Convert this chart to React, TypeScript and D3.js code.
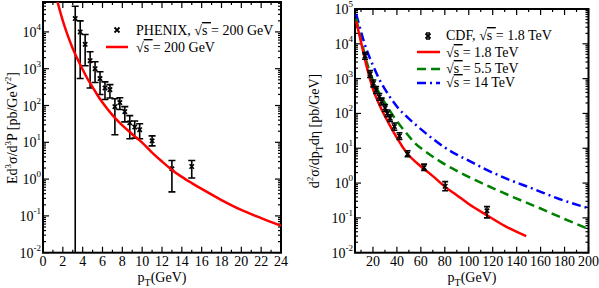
import { useEffect, useRef } from "react";
import * as d3 from "d3";

// PHENIX data, sqrt(s) = 200 GeV
const phenixPt = [3.25, 3.75, 4.25, 4.75, 5.25, 5.75, 6.25, 6.75, 7.25, 7.75, 8.25, 8.75, 9.25, 9.75, 11, 13, 15];
const phenixVal = [2.3e4, 1.0e4, 4.6e3, 1.65e3, 1.0e3, 540, 300, 270, 93, 120, 68, 34, 26, 22, 11, 1.9, 2.2];
const phenixLo = [1e-3, 540, 1.2e3, 300, 420, 200, 145, 160, 16, 78, 36, 12.5, 13, 12.5, 8, 0.45, 1.07];
const phenixHi = [5.0e4, 2.0e4, 8.5e3, 2.9e3, 1.55e3, 830, 440, 370, 152, 163, 93, 53, 38, 32, 15, 3.2, 3.2];

// theory curve, 200 GeV
const rhicCurvePt = [1.45, 2, 2.5, 3, 3.5, 4, 4.5, 5, 5.5, 6, 7, 8, 9, 10, 11, 12, 13, 14, 15, 16, 18, 20, 22, 24];
const rhicCurveVal = [67600, 20000, 7940, 3550, 1780, 955, 525, 316, 190, 120, 55, 28.8, 16.6, 9.8, 5.25, 3.0, 1.78, 1.15, 0.78, 0.54, 0.27, 0.145, 0.087, 0.054];

// CDF data, sqrt(s) = 1.8 TeV
const cdfPt = [13.4, 17.6, 20.3, 22.6, 25.3, 27.3, 30.1, 32.0, 34.3, 37.9, 42.1, 48.9, 62.7, 80.3, 115.2];
const cdfVal = [4500, 1350, 730, 470, 300, 220, 143, 100, 74, 42, 22.5, 6.8, 2.8, 0.81, 0.16];
const cdfLo = [3600, 1080, 580, 375, 240, 175, 114, 80, 59, 33, 18, 5.7, 2.3, 0.6, 0.1];
const cdfHi = [5600, 1700, 910, 590, 375, 275, 180, 125, 92, 53, 28, 8.5, 3.5, 1.1, 0.21];

// theory curves for LHC / Tevatron energies
const tev18Pt = [6, 8, 10, 12, 14, 17, 20, 25, 30, 35, 40, 45, 50, 60, 70, 80, 90, 100, 115, 130, 148];
const tev18Val = [44700, 22400, 11200, 5620, 2820, 1120, 500, 190, 83, 40, 20, 10.5, 6.3, 3.0, 1.58, 0.79, 0.45, 0.25, 0.12, 0.059, 0.03];
const lhc55Pt = [6, 8, 10, 12, 15, 20, 25, 30, 35, 40, 48, 55, 65, 76, 90, 107, 120, 137.5, 160, 180, 200];
const lhc55Val = [52500, 26300, 13200, 7080, 2820, 890, 400, 200, 107, 60, 27, 14.1, 7.6, 4.2, 2.24, 1.15, 0.72, 0.39, 0.186, 0.093, 0.048];
const lhc14Pt = [6, 8, 10, 15, 20, 25, 30, 40, 50, 60, 70, 80, 90, 100, 115, 130, 154, 175, 200];
const lhc14Val = [70800, 39800, 22400, 6310, 2400, 1000, 500, 158, 71, 35.5, 18.6, 10.5, 6.6, 4.4, 2.4, 1.41, 0.68, 0.355, 0.19];

const leftXTicks = [0, 2, 4, 6, 8, 10, 12, 14, 16, 18, 20, 22, 24];
const rightXTicks = [20, 40, 60, 80, 100, 120, 140, 160, 180, 200];
const leftYExp = [-2, -1, 0, 1, 2, 3, 4];
const rightYExp = [-2, -1, 0, 1, 2, 3, 4, 5];

const FONT = "'Liberation Serif', 'Times New Roman', serif";

type Panel = {
  id: string;
  x0: number; x1: number; y0: number; y1: number;
  xDomain: [number, number];
  yDomain: [number, number];
  xMajor: number[];
  xMinorStep: number;
  yExp: number[];
};

const App = () => {
  const svgRef = useRef<SVGSVGElement | null>(null);

  useEffect(() => {
    const svg = d3.select(svgRef.current);
    svg.selectAll("*").remove();

    const drawFrame = (p: Panel) => {
      const x = d3.scaleLinear().domain(p.xDomain).range([p.x0, p.x1]);
      const y = d3.scaleLog().domain(p.yDomain).range([p.y1, p.y0]);
      const g = svg.append("g");

      svg
        .append("clipPath")
        .attr("id", `clip-${p.id}`)
        .append("rect")
        .attr("x", p.x0)
        .attr("y", p.y0)
        .attr("width", p.x1 - p.x0)
        .attr("height", p.y1 - p.y0);

      // x ticks (bottom + top, inward)
      const minor = d3.range(Math.ceil(p.xDomain[0] / p.xMinorStep) * p.xMinorStep, p.xDomain[1] + 0.001, p.xMinorStep);
      minor.forEach((v) => {
        const major = p.xMajor.some((m) => Math.abs(m - v) < 1e-6);
        const len = major ? 6 : 3;
        g.append("line").attr("x1", x(v)).attr("x2", x(v)).attr("y1", p.y1).attr("y2", p.y1 - len)
          .attr("stroke", "#000").attr("stroke-width", 1.2);
        g.append("line").attr("x1", x(v)).attr("x2", x(v)).attr("y1", p.y0).attr("y2", p.y0 + len)
          .attr("stroke", "#000").attr("stroke-width", 1.2);
      });
      p.xMajor.forEach((v) => {
        g.append("text").attr("x", x(v)).attr("y", 266).attr("text-anchor", "middle")
          .attr("font-family", FONT).attr("font-size", 14).text(v);
      });

      // y ticks (log)
      const yTop = p.yDomain[1];
      p.yExp.forEach((e) => {
        const base = Math.pow(10, e);
        for (let k = 1; k <= 9; k++) {
          const v = base * k;
          if (v > yTop * 1.0001) break;
          const len = k === 1 ? 6 : 3;
          g.append("line").attr("x1", p.x0).attr("x2", p.x0 + len).attr("y1", y(v)).attr("y2", y(v))
            .attr("stroke", "#000").attr("stroke-width", 1.2);
          g.append("line").attr("x1", p.x1).attr("x2", p.x1 - len).attr("y1", y(v)).attr("y2", y(v))
            .attr("stroke", "#000").attr("stroke-width", 1.2);
        }
        const t = g.append("text").attr("x", p.x0 - 2).attr("y", y(base) + 5).attr("text-anchor", "end")
          .attr("font-family", FONT).attr("font-size", 14);
        t.append("tspan").text("10");
        t.append("tspan").attr("dy", -7).attr("font-size", 9).text(e);
      });

      g.append("rect").attr("x", p.x0).attr("y", p.y0).attr("width", p.x1 - p.x0).attr("height", p.y1 - p.y0)
        .attr("fill", "none").attr("stroke", "#000").attr("stroke-width", 2);

      return { x, y };
    };

    const drawCurve = (p: Panel, x: any, y: any, pts: number[], vals: number[], color: string, dash: string | null) => {
      const line = d3
        .line<number>()
        .x((_, i) => x(pts[i]))
        .y((v) => y(v))
        .curve(d3.curveMonotoneX);
      const path = svg.append("path").attr("clip-path", `url(#clip-${p.id})`).attr("d", line(vals) as string)
        .attr("fill", "none").attr("stroke", color).attr("stroke-width", 2.5);
      if (dash) path.attr("stroke-dasharray", dash);
    };

    const drawErrors = (p: Panel, x: any, y: any, pts: number[], vals: number[], lo: number[], hi: number[], cap: number) => {
      const g = svg.append("g").attr("clip-path", `url(#clip-${p.id})`);
      pts.forEach((pt, i) => {
        const cx = x(pt);
        g.append("line").attr("x1", cx).attr("x2", cx).attr("y1", y(Math.max(lo[i], 1e-4))).attr("y2", y(hi[i]))
          .attr("stroke", "#000").attr("stroke-width", 1.6);
        [lo[i], hi[i]].forEach((v) => {
          g.append("line").attr("x1", cx - cap).attr("x2", cx + cap).attr("y1", y(v)).attr("y2", y(v))
            .attr("stroke", "#000").attr("stroke-width", 1.6);
        });
        const cy = y(vals[i]);
        g.append("path").attr("d", `M${cx - 2.2},${cy - 2.2}L${cx + 2.2},${cy + 2.2}M${cx - 2.2},${cy + 2.2}L${cx + 2.2},${cy - 2.2}`)
          .attr("stroke", "#000").attr("stroke-width", 1.6);
      });
    };

    const sqrtS = (t: any, rest: string) => {
      t.append("tspan").text("\u221A");
      t.append("tspan").style("text-decoration", "overline").text("s ");
      t.append("tspan").text(rest);
    };

    // ---- left panel ----
    const left: Panel = {
      id: "l", x0: 43, x1: 281, y0: 2, y1: 252.7,
      xDomain: [0, 24], yDomain: [0.01, 6.5e4],
      xMajor: leftXTicks, xMinorStep: 1, yExp: leftYExp,
    };
    const L = drawFrame(left);
    drawErrors(left, L.x, L.y, phenixPt, phenixVal, phenixLo, phenixHi, 3.5);
    drawCurve(left, L.x, L.y, rhicCurvePt, rhicCurveVal, "#ff0000", null);

    // ---- right panel ----
    const right: Panel = {
      id: "r", x0: 355, x1: 588.5, y0: 9, y1: 252.7,
      xDomain: [5, 200], yDomain: [0.01, 1e5],
      xMajor: rightXTicks, xMinorStep: 10, yExp: rightYExp,
    };
    const R = drawFrame(right);
    drawCurve(right, R.x, R.y, lhc14Pt, lhc14Val, "#0000ff", "9,4,2,4");
    drawCurve(right, R.x, R.y, lhc55Pt, lhc55Val, "#008000", "9,5");
    drawCurve(right, R.x, R.y, tev18Pt, tev18Val, "#ff0000", null);
    drawErrors(right, R.x, R.y, cdfPt, cdfVal, cdfLo, cdfHi, 3);

    // axis titles
    [162, 472].forEach((cx) => {
      const t = svg.append("text").attr("x", cx).attr("y", 282).attr("text-anchor", "middle")
        .attr("font-family", FONT).attr("font-size", 14);
      t.append("tspan").text("p");
      t.append("tspan").attr("dy", 4).attr("font-size", 10).text("T");
      t.append("tspan").attr("dy", -4).text("(GeV)");
    });

    const yl = svg.append("text").attr("transform", "translate(17,128) rotate(-90)").attr("text-anchor", "middle")
      .attr("font-family", FONT).attr("font-size", 14);
    yl.append("tspan").text("Ed");
    yl.append("tspan").attr("dy", -6).attr("font-size", 9).text("3");
    yl.append("tspan").attr("dy", 6).text("\u03C3/d");
    yl.append("tspan").attr("dy", -6).attr("font-size", 9).text("3");
    yl.append("tspan").attr("dy", 6).text("P [pb/GeV");
    yl.append("tspan").attr("dy", -6).attr("font-size", 9).text("2");
    yl.append("tspan").attr("dy", 6).text("]");

    const yr = svg.append("text").attr("transform", "translate(319,131) rotate(-90)").attr("text-anchor", "middle")
      .attr("font-family", FONT).attr("font-size", 14);
    yr.append("tspan").text("d");
    yr.append("tspan").attr("dy", -6).attr("font-size", 9).text("2");
    yr.append("tspan").attr("dy", 6).text("\u03C3/dp");
    yr.append("tspan").attr("dy", 4).attr("font-size", 10).text("T");
    yr.append("tspan").attr("dy", -4).text("d\u03B7 [pb/GeV]");

    // legends
    const mark = (cx: number, cy: number) =>
      svg.append("path").attr("d", `M${cx - 2.5},${cy - 2.5}L${cx + 2.5},${cy + 2.5}M${cx - 2.5},${cy + 2.5}L${cx + 2.5},${cy - 2.5}`)
        .attr("stroke", "#000").attr("stroke-width", 1.8);
    const legText = (x0: number, y0: number, prefix: string, rest: string) => {
      const t = svg.append("text").attr("x", x0).attr("y", y0).attr("font-family", FONT).attr("font-size", 14);
      if (prefix) t.append("tspan").text(prefix);
      sqrtS(t, rest);
    };
    const legLine = (x0: number, x1: number, yy: number, color: string, dash: string | null) => {
      const l = svg.append("line").attr("x1", x0).attr("x2", x1).attr("y1", yy).attr("y2", yy)
        .attr("stroke", color).attr("stroke-width", 2.5);
      if (dash) l.attr("stroke-dasharray", dash);
    };

    mark(117, 30);
    legText(136, 35, "PHENIX, ", "= 200 GeV");
    legLine(106, 128, 47, "#ff0000", null);
    legText(136, 52, "", "= 200 GeV");

    mark(428, 36);
    svg.append("line").attr("x1", 426).attr("x2", 430).attr("y1", 33).attr("y2", 33).attr("stroke", "#000").attr("stroke-width", 1.5);
    svg.append("line").attr("x1", 426).attr("x2", 430).attr("y1", 39).attr("y2", 39).attr("stroke", "#000").attr("stroke-width", 1.5);
    legText(446, 40, "CDF, ", "= 1.8 TeV");
    legLine(417, 440, 52, "#ff0000", null);
    legText(446, 57, "", "= 1.8 TeV");
    legLine(417, 440, 69, "#008000", "9,5");
    legText(446, 73, "", "= 5.5 TeV");
    legLine(417, 440, 83, "#0000ff", "9,4,2,4");
    legText(446, 87, "", "= 14 TeV");
  }, []);

  return (
    <div style={{ position: "absolute", left: 0, top: 0, width: 599, height: 288, background: "#fff" }}>
      <svg ref={svgRef} width={599} height={288} />
    </div>
  );
};

export default App;
